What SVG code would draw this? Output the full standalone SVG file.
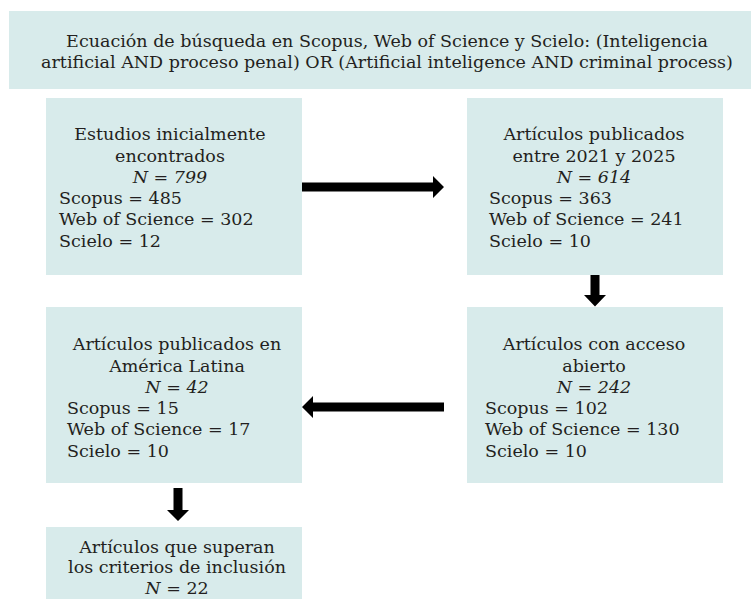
<svg xmlns="http://www.w3.org/2000/svg" width="751" height="599" viewBox="0 0 751 599">
<style>
.box{fill:#d8ebeb;}
text{font-family:"DejaVu Serif","Liberation Serif",serif;font-size:17.5px;fill:#231f20;}
.c{text-anchor:middle;}
.i{font-style:italic;}
.arr{fill:#000;}
</style>
<rect x="0" y="0" width="751" height="599" fill="#ffffff"/>
<g id="n0">
<rect class="box" x="9" y="11" width="742" height="78"/>
<text class="c" x="387" y="47">Ecuación de búsqueda en Scopus, Web of Science y Scielo: (Inteligencia</text>
<text class="c" x="387" y="68">artificial AND proceso penal) OR (Artificial inteligence AND criminal process)</text>
</g>
<g id="n1">
<rect class="box" x="46" y="98" width="256" height="177"/>
<text class="c" x="170" y="140">Estudios inicialmente</text>
<text class="c" x="170" y="161.5">encontrados</text>
<text class="c i" x="170" y="183">N = 799</text>
<text x="59" y="204">Scopus = 485</text>
<text x="59" y="225">Web of Science = 302</text>
<text x="59" y="246.5">Scielo = 12</text>
</g>
<g id="n2">
<rect class="box" x="467" y="98" width="256" height="177"/>
<text class="c" x="594" y="140">Artículos publicados</text>
<text class="c" x="594" y="161.5">entre 2021 y 2025</text>
<text class="c i" x="594" y="183">N = 614</text>
<text x="489" y="204">Scopus = 363</text>
<text x="489" y="225">Web of Science = 241</text>
<text x="489" y="246.5">Scielo = 10</text>
</g>
<g id="n3">
<rect class="box" x="467" y="307" width="256" height="176"/>
<text class="c" x="594" y="350">Artículos con acceso</text>
<text class="c" x="594" y="371.5">abierto</text>
<text class="c i" x="594" y="393">N = 242</text>
<text x="485" y="414">Scopus = 102</text>
<text x="485" y="435">Web of Science = 130</text>
<text x="485" y="456.5">Scielo = 10</text>
</g>
<g id="n4">
<rect class="box" x="46" y="307" width="256" height="176"/>
<text class="c" x="177" y="350">Artículos publicados en</text>
<text class="c" x="177" y="371.5">América Latina</text>
<text class="c i" x="177" y="393">N = 42</text>
<text x="67" y="414">Scopus = 15</text>
<text x="67" y="435">Web of Science = 17</text>
<text x="67" y="456.5">Scielo = 10</text>
</g>
<g id="n5">
<rect class="box" x="46" y="527" width="256" height="72"/>
<text class="c" x="177" y="552.5">Artículos que superan</text>
<text class="c" x="177" y="573">los criterios de inclusión</text>
<text class="c" x="177" y="593.5"><tspan class="i">N</tspan> = 22</text>
</g>
<g id="connectors">
<polygon class="arr" points="302,182.5 433,182.5 433,176 444,187 433,198 433,191.5 302,191.5"/>
<polygon class="arr" points="590.5,275 599.5,275 599.5,295 606,295 595,306.5 584,295 590.5,295"/>
<polygon class="arr" points="444,402.5 313,402.5 313,396 302,407 313,418 313,411.5 444,411.5"/>
<polygon class="arr" points="173.5,488 182.5,488 182.5,510 189,510 178,521 167,510 173.5,510"/>
</g>
</svg>
